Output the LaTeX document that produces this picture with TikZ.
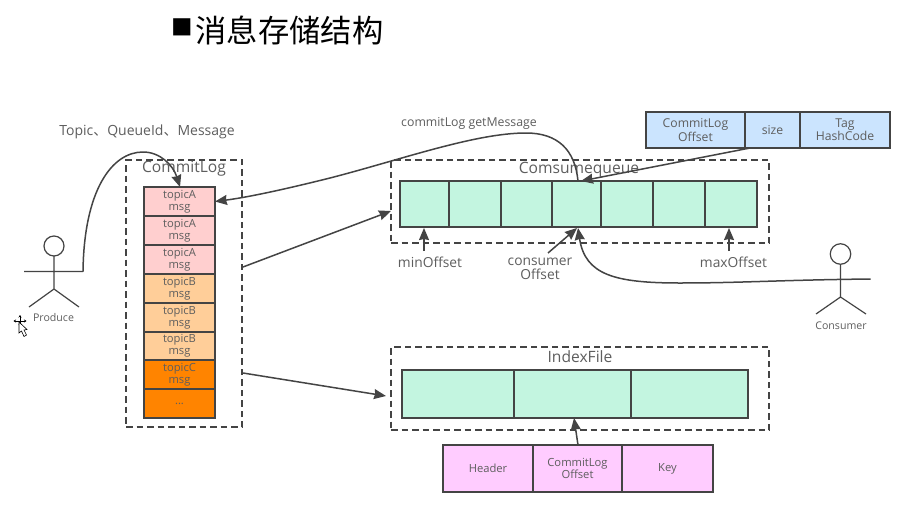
\documentclass[tikz,border=0pt]{standalone}
\usepackage{fontspec}
\setmainfont{Open Sans}
\newfontfamily\cjkfont{Noto Sans CJK SC}
\usetikzlibrary{arrows.meta}
\definecolor{inkline}{HTML}{444444}
\definecolor{labelgrey}{HTML}{5E5E5E}
\definecolor{rowpink}{HTML}{FFCFCF}
\definecolor{rowtan}{HTML}{FFCE99}
\definecolor{roworange}{HTML}{FF8400}
\definecolor{slotgreen}{HTML}{C3F5E0}
\definecolor{slotblue}{HTML}{CBE4FE}
\definecolor{slotviolet}{HTML}{FFCCFF}
\tikzset{
  x=1pt,y=-1pt,
  every node/.style={inner sep=0pt,outer sep=0pt,align=center,text=labelgrey},
  frame/.style={draw=inkline,line width=1.2pt,dash pattern=on 6.5pt off 4pt},
  cellbox/.style={draw=inkline,line width=1.3pt,anchor=north west},
  conn/.style={draw=inkline,line width=1.5pt},
  tip/.style={conn,-{Stealth[length=12pt,width=10pt,inset=1pt]}},
  figure/.style={draw=inkline,line width=1.2pt},
  small/.style={font=\fontsize{11.2}{11.6}\selectfont},
  wide/.style={font=\fontsize{12.2}{11.6}\selectfont},
  toplabels/.style={font=\fontsize{12.3}{14}\selectfont},
  flowlabel/.style={font=\fontsize{14}{14}\selectfont},
  caption/.style={font=\fontsize{13.8}{14}\selectfont},
  heading/.style={font=\fontsize{15.6}{16}\selectfont},
  tiny/.style={font=\fontsize{10.6}{11}\selectfont},
}
% \slot{name}{x1}{y1}{x2}{y2}{fill}{text}: a table cell given by its corners
\newcommand{\slot}[8][small]{%
  \pgfmathsetmacro{\slotw}{#5-#3}\pgfmathsetmacro{\sloth}{#6-#4}%
  \node[cellbox,fill=#7,minimum width=\slotw pt,minimum height=\sloth pt,#1] (#2) at (#3,#4) {#8};}
\begin{document}
\begin{tikzpicture}
\useasboundingbox (0,0) rectangle (907,506);
\fill[white] (0,0) rectangle (907,506);

% page heading
\node[text=black,font=\cjkfont\fontsize{21.5}{22}\selectfont] (bullet) at (182,27.5) {■};
\node[anchor=west,text=black,font=\cjkfont\fontsize{31.3}{32}\selectfont] (title) at (195.5,30.5) {消息存储结构};

% dashed group frames
\node[frame,anchor=north west,minimum width=116pt,minimum height=267pt] (logframe) at (126,160) {};
\node[frame,anchor=north west,minimum width=378pt,minimum height=83pt] (queueframe) at (391,160) {};
\node[frame,anchor=north west,minimum width=378pt,minimum height=83pt] (indexframe) at (391,347) {};
\node[heading] (logtitle) at (184,169) {CommitLog};
\node[heading] (queuetitle) at (579,169.5) {Comsumequeue};
\node[heading] (indextitle) at (580,356.5) {IndexFile};

% commit log rows
\slot{r1}{144}{187}{215}{216}{rowpink}{topicA\\msg}
\slot{r2}{144}{216}{215}{245}{rowpink}{topicA\\msg}
\slot{r3}{144}{245}{215}{274}{rowpink}{topicA\\msg}
\slot{r4}{144}{274}{215}{303}{rowtan}{topicB\\msg}
\slot{r5}{144}{303}{215}{332}{rowtan}{topicB\\msg}
\slot{r6}{144}{332}{215}{360}{rowtan}{topicB\\msg}
\slot{r7}{144}{360}{215}{389}{roworange}{topicC\\msg}
\slot{r8}{144}{389}{215}{418}{roworange}{...}

% consume queue slots
\slot{q1}{400}{181}{449}{227}{slotgreen}{}
\slot{q2}{449}{181}{501}{227}{slotgreen}{}
\slot{q3}{501}{181}{552}{227}{slotgreen}{}
\slot{q4}{552}{181}{601}{227}{slotgreen}{}
\slot{q5}{601}{181}{653}{227}{slotgreen}{}
\slot{q6}{653}{181}{705}{227}{slotgreen}{}
\slot{q7}{705}{181}{757}{227}{slotgreen}{}

% queue entry layout
\slot[wide]{e1}{646}{112}{745}{148}{slotblue}{CommitLog\\Offset}
\slot[wide]{e2}{745}{112}{800}{148}{slotblue}{size}
\slot[wide]{e3}{800}{112}{890}{148}{slotblue}{Tag\\HashCode}

% index file slots
\slot{i1}{402}{370}{514}{418}{slotgreen}{}
\slot{i2}{514}{370}{631}{418}{slotgreen}{}
\slot{i3}{631}{370}{748}{418}{slotgreen}{}

% index entry layout
\slot{h1}{443}{445}{533}{492}{slotviolet}{Header}
\slot{h2}{533}{445}{622}{492}{slotviolet}{CommitLog\\Offset}
\slot{h3}{622}{445}{713}{492}{slotviolet}{Key}

% free labels
\node[flowlabel] (toplabel) at (147,131.5) {Topic{\cjkfont 、}QueueId{\cjkfont 、}Message};
\node[toplabels] (getlabel) at (469,123) {commitLog getMessage};
\node[caption] (minlabel) at (430,262) {minOffset};
\node[caption] (conlabel) at (540,268.5) {consumer\\Offset};
\node[caption] (maxlabel) at (733.5,262) {maxOffset};
\node[tiny] (prodlabel) at (53.5,318) {Produce};
\node[tiny] (conslabel) at (841,325.5) {Consumer};

% producer figure
\node[draw=inkline,line width=1.2pt,circle,minimum size=20pt] (phead) at (54,246) {};
\coordinate (phip) at (54,289);
\coordinate (parmL) at (24,271.5);
\coordinate (parmR) at (83,271.5);
\coordinate (plegL) at (29,307);
\coordinate (plegR) at (79,307);
\draw[figure] (phead.south) -- (phip) (parmL) -- (parmR) (plegL) -- (phip) -- (plegR);

% consumer figure
\node[draw=inkline,line width=1.2pt,circle,minimum size=20.5pt] (chead) at (840.5,254) {};
\coordinate (chip) at (840.5,297);
\coordinate (carmR) at (870.5,279);
\coordinate (clegL) at (816,314);
\coordinate (clegR) at (866,314);
\draw[figure] (chead.south) -- (chip) (clegL) -- (chip) -- (clegR);

% connectors
\draw[tip] (parmR) .. controls (84,190) and (112,152) .. (143,152)
  .. controls (160,152) and (173,165) .. ([xshift=0.5pt]r1.north);
\coordinate (getfoot) at (578,181);
\draw[tip] (getfoot) .. controls (575,150) and (558,133) .. (526,133)
  .. controls (475,133) and (400,160) .. (330,178)
  .. controls (290,188) and (250,197) .. (r1.east);
\coordinate (entryfoot) at (750,148);
\coordinate (entrytip) at (581,181);
\draw[tip] (entryfoot) -- (entrytip);
\coordinate (logoutA) at (243,267);
\coordinate (queuein) at (391,211);
\draw[tip] (logoutA) -- (queuein);
\coordinate (logoutB) at (243,373);
\coordinate (indexin) at (386,396);
\draw[tip] (logoutB) -- (indexin);
\coordinate (mintail) at (424,251);
\coordinate (mintip) at (424,228);
\draw[tip] (mintail) -- (mintip);
\coordinate (maxtail) at (729,251);
\coordinate (maxtip) at (729,228);
\draw[tip] (maxtail) -- (maxtip);
\coordinate (contail) at (548,253);
\coordinate (contip) at (577,228);
\draw[tip] (contail) -- (contip);
\coordinate (cfoot) at (578,228);
\draw[tip] (carmR) .. controls (780,280) and (740,283) .. (680,283)
  .. controls (615,283) and (585,275) .. (cfoot);
\coordinate (hfoot) at (578,445);
\coordinate (htip) at (574,418);
\draw[tip] (hfoot) -- (htip);

% pointer on screen
\begin{scope}[line width=0.6pt,draw=black]
  \draw[{Stealth[length=2.5pt,width=3pt]}-{Stealth[length=2.5pt,width=3pt]}] (13.5,321) -- (26.5,321);
  \draw[{Stealth[length=2.5pt,width=3pt]}-{Stealth[length=2.5pt,width=3pt]}] (20,315) -- (20,327);
  \draw[fill=white] (19,322) -- (19,333) -- (21.5,331) -- (24,336.5) -- (26.5,335) -- (24,330) -- (27,329.5) -- cycle;
\end{scope}
\end{tikzpicture}
\end{document}
